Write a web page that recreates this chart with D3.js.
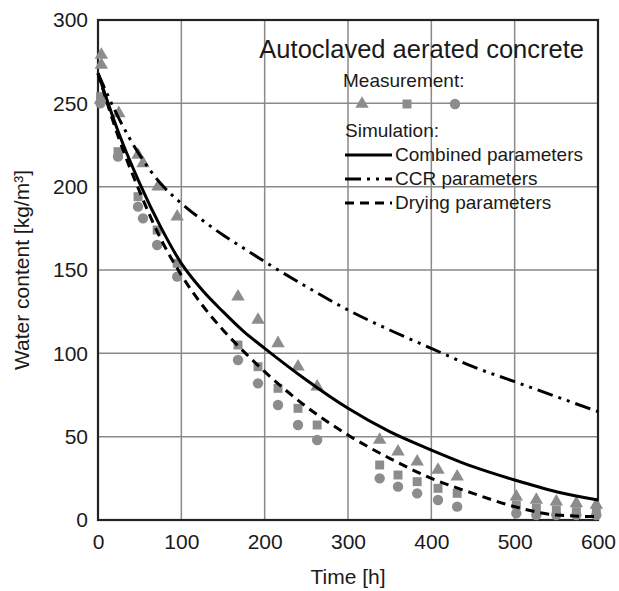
<!DOCTYPE html>
<html>
<head>
<meta charset="utf-8">
<script src="https://cdn.jsdelivr.net/npm/d3@7"></script>
<style>
  body { margin: 0; background: #fff; }
  svg { font-family: "Liberation Sans", Arial, sans-serif; }
</style>
</head>
<body>
<svg id="chart" width="619" height="591"></svg>
<script>
// measurements (time [h], water content [kg/m3])
const triangleT = [4, 4, 3, 25, 48, 54, 72, 95, 168, 192, 216, 240, 263, 338, 360, 383, 408, 431, 502, 526, 550, 574, 598];
const triangleW = [279, 273, 252, 244, 219, 214, 200, 182, 134, 120, 106, 92, 80, 48, 41, 35, 30, 26, 14, 12, 11, 10, 9];
const squareT = [3, 24, 48, 71, 95, 168, 192, 216, 240, 263, 338, 360, 383, 408, 431, 502, 526, 550, 574, 598];
const squareW = [254, 221, 194, 174, 154, 105, 92, 79, 67, 57, 33, 27, 23, 19, 16, 9, 7, 6, 5, 5];
const circleT = [3, 24, 48, 54, 71, 95, 168, 192, 216, 240, 263, 338, 360, 383, 408, 431, 502, 526, 550, 574, 598];
const circleW = [250, 218, 188, 181, 165, 146, 96, 82, 69, 57, 48, 25, 20, 16, 12, 8, 4, 3, 3, 3, 3];

// simulations
const simT = [0, 25, 50, 75, 100, 125, 150, 175, 200, 250, 300, 350, 400, 450, 500, 550, 600];
const combinedW = [268, 232, 202, 176, 154, 138, 125, 113, 103, 84, 67, 53, 42, 32, 24, 17, 12];
const ccrW = [268, 241, 219, 202, 190, 180, 171, 163, 155, 140, 126, 114, 103, 92, 83, 74, 65];
const dryingW = [268, 229, 197, 169, 147, 129, 114, 101, 89, 68, 51, 37, 25, 16, 8, 3, 2];

const xTicks = [0, 100, 200, 300, 400, 500, 600];
const yTicks = [0, 50, 100, 150, 200, 250, 300];

const margin = { top: 20, right: 21, bottom: 71, left: 98 };
const width = 619, height = 591;
const innerW = width - margin.left - margin.right;
const innerH = height - margin.top - margin.bottom;

const svg = d3.select("#chart");
const g = svg.append("g").attr("transform", `translate(${margin.left},${margin.top})`);

const x = d3.scaleLinear().domain([0, 600]).range([0, innerW]);
const y = d3.scaleLinear().domain([0, 300]).range([innerH, 0]);

const gridColor = "#8a8a8a";
const markColor = "#8c8c8c";
const textColor = "#1a1a1a";

// grid
g.append("g")
  .selectAll("line")
  .data(xTicks)
  .join("line")
  .attr("x1", (d) => x(d)).attr("x2", (d) => x(d))
  .attr("y1", 0).attr("y2", innerH)
  .attr("stroke", gridColor).attr("stroke-width", 1.5);
g.append("g")
  .selectAll("line")
  .data(yTicks)
  .join("line")
  .attr("y1", (d) => y(d)).attr("y2", (d) => y(d))
  .attr("x1", 0).attr("x2", innerW)
  .attr("stroke", gridColor).attr("stroke-width", 1.5);

// axes (labels only)
const xAxis = g.append("g")
  .attr("transform", `translate(0,${innerH})`)
  .call(d3.axisBottom(x).tickValues(xTicks).tickSize(0).tickPadding(14));
const yAxis = g.append("g")
  .call(d3.axisLeft(y).tickValues(yTicks).tickSize(0).tickPadding(10));
[xAxis, yAxis].forEach((ax) => {
  ax.select(".domain").remove();
  ax.selectAll("text").attr("font-size", 21).attr("fill", textColor)
    .attr("font-family", "Liberation Sans, Arial, sans-serif");
});

// frame
g.append("rect")
  .attr("x", 0).attr("y", 0).attr("width", innerW).attr("height", innerH)
  .attr("fill", "none").attr("stroke", "#222").attr("stroke-width", 2.2);

// markers
const triPath = d3.symbol().type(d3.symbolTriangle).size(78)();
const sqPath = d3.symbol().type(d3.symbolSquare).size(80)();
const circR = 5.2;

const marks = g.append("g");
marks.selectAll("path.tri")
  .data(triangleT.map((t, i) => [t, triangleW[i]]))
  .join("path")
  .attr("class", "tri")
  .attr("d", triPath)
  .attr("transform", (d) => `translate(${x(d[0])},${y(d[1])})`)
  .attr("fill", markColor);
marks.selectAll("path.sq")
  .data(squareT.map((t, i) => [t, squareW[i]]))
  .join("path")
  .attr("class", "sq")
  .attr("d", sqPath)
  .attr("transform", (d) => `translate(${x(d[0])},${y(d[1])})`)
  .attr("fill", markColor);
marks.selectAll("circle")
  .data(circleT.map((t, i) => [t, circleW[i]]))
  .join("circle")
  .attr("cx", (d) => x(d[0]))
  .attr("cy", (d) => y(d[1]))
  .attr("r", circR)
  .attr("fill", markColor);

// simulation curves
const simLine = (vals) => d3.line()
  .x((d, i) => x(simT[i]))
  .y((d) => y(d))
  .curve(d3.curveMonotoneX)(vals);

const curves = [
  { vals: combinedW, dash: null },
  { vals: ccrW, dash: "16 6 3 6 3 6" },
  { vals: dryingW, dash: "9 6" },
];

g.append("g")
  .selectAll("path")
  .data(curves)
  .join("path")
  .attr("d", (c) => simLine(c.vals))
  .attr("fill", "none")
  .attr("stroke", "#000")
  .attr("stroke-width", 3)
  .attr("stroke-dasharray", (c) => c.dash);

// legend
const lg = svg.append("g");
lg.append("text").attr("x", 584).attr("y", 58).attr("text-anchor", "end")
  .attr("font-size", 25.5).attr("fill", textColor).text("Autoclaved aerated concrete");
lg.append("text").attr("x", 343).attr("y", 87)
  .attr("font-size", 19).attr("fill", textColor).text("Measurement:");
lg.append("path").attr("d", triPath).attr("transform", "translate(362,104)").attr("fill", markColor);
lg.append("path").attr("d", sqPath).attr("transform", "translate(407,104)").attr("fill", markColor);
lg.append("circle").attr("cx", 455).attr("cy", 104).attr("r", circR).attr("fill", markColor);
lg.append("text").attr("x", 345).attr("y", 137)
  .attr("font-size", 19).attr("fill", textColor).text("Simulation:");

const legendItems = [
  { label: "Combined parameters", dash: null, y: 155 },
  { label: "CCR parameters", dash: "16 6 3 6 3 6", y: 179 },
  { label: "Drying parameters", dash: "9 6", y: 203 },
];
legendItems.forEach((it) => {
  lg.append("line").attr("x1", 345).attr("x2", 392).attr("y1", it.y).attr("y2", it.y)
    .attr("stroke", "#000").attr("stroke-width", 3).attr("stroke-dasharray", it.dash);
  lg.append("text").attr("x", 395).attr("y", it.y + 6)
    .attr("font-size", 19).attr("fill", textColor).text(it.label);
});

// axis titles
svg.append("text").attr("x", margin.left + innerW / 2).attr("y", 584)
  .attr("text-anchor", "middle").attr("font-size", 21).attr("fill", textColor).text("Time [h]");
svg.append("text")
  .attr("transform", `translate(29,${margin.top + innerH / 2}) rotate(-90)`)
  .attr("text-anchor", "middle").attr("font-size", 21).attr("fill", textColor)
  .text("Water content [kg/m³]");
</script>
</body>
</html>
